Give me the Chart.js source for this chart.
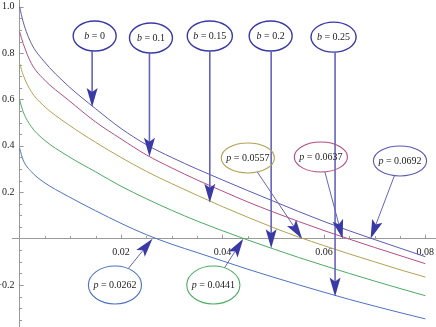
<!DOCTYPE html>
<html>
<head>
<meta charset="utf-8">
<script src="https://cdn.jsdelivr.net/npm/chart.js@4"></script>
<style>
  body { margin: 0; background: #fff; }
  canvas { display: block; }
</style>
</head>
<body>
<canvas id="chart" width="436" height="327"></canvas>
<script>
const pValues = [0, 0.0007, 0.0023, 0.0046, 0.0096, 0.015, 0.02, 0.025, 0.03, 0.035, 0.04, 0.045, 0.05, 0.055, 0.06, 0.065, 0.07, 0.075, 0.08];

// one curve per b
const curveB0   = [1.0, 0.935, 0.842, 0.77, 0.658, 0.56, 0.475, 0.405, 0.35, 0.3, 0.253, 0.207, 0.162, 0.117, 0.074, 0.034, -0.004, -0.041, -0.078];
const curveB010 = [0.892, 0.842, 0.756, 0.691, 0.598, 0.503, 0.43, 0.361, 0.305, 0.253, 0.205, 0.158, 0.115, 0.074, 0.035, -0.002, -0.038, -0.073, -0.108];
const curveB015 = [0.756, 0.706, 0.634, 0.576, 0.492, 0.415, 0.35, 0.29, 0.237, 0.187, 0.138, 0.092, 0.048, 0.007, -0.03, -0.066, -0.1, -0.134, -0.166];
const curveB020 = [0.598, 0.547, 0.483, 0.43, 0.355, 0.288, 0.226, 0.172, 0.122, 0.076, 0.034, -0.006, -0.044, -0.081, -0.116, -0.15, -0.183, -0.215, -0.246];
const curveB025 = [0.39, 0.339, 0.289, 0.246, 0.182, 0.12, 0.066, 0.017, -0.024, -0.06, -0.096, -0.132, -0.166, -0.199, -0.231, -0.262, -0.291, -0.319, -0.346];

// "b = ..." callouts: label centre and arrow tip (data coords)
const bLabels = ['0', '0.1', '0.15', '0.2', '0.25'];
const bLabelX = [0.0148, 0.0259, 0.0375, 0.0495, 0.0619];
const bLabelY = [0.874, 0.865, 0.874, 0.874, 0.869];
const bTipX = [0.0143, 0.0256, 0.0375, 0.0496, 0.0622];
const bTipY = [0.568, 0.353, 0.155, -0.041, -0.25];

// "p = ..." callouts: arrow points at the zero crossing p
const pLabels = ['0.0262', '0.0441', '0.0557', '0.0637', '0.0692'];
const pLabelX = [0.0188, 0.0382, 0.045, 0.0594, 0.075];
const pLabelY = [-0.2, -0.2, 0.348, 0.352, 0.335];

const colors = ['#5a5ab4', '#b34d84', '#b3a152', '#4caa62', '#4d72c0'];
const pColors = [colors[4], colors[3], colors[2], colors[1], colors[0]];
const navy = '#3a3aa6';
const serif = '"Liberation Serif", "Times New Roman", serif';

const series = [curveB0, curveB010, curveB015, curveB020, curveB025];

// no auto padding for the first/last tick labels
const noPad = s => { s.paddingTop = 0; s.paddingBottom = 0; s.paddingLeft = 0; s.paddingRight = 0; };

const axisTicks = {
    id: 'axisTicks',
    beforeDatasetsDraw(chart) {
        const { ctx, scales: { x, y } } = chart;
        const x0 = x.getPixelForValue(0);
        const y0 = y.getPixelForValue(0);
        ctx.save();
        ctx.strokeStyle = '#999';
        ctx.lineWidth = 1;
        ctx.beginPath();
        for (let i = 1; i <= 16; i++) {
            const px = Math.round(x.getPixelForValue(i * 0.005)) + 0.5;
            const len = i % 4 === 0 ? 4 : 2.5;
            ctx.moveTo(px, y0);
            ctx.lineTo(px, y0 - len);
        }
        for (let i = -7; i <= 20; i++) {
            if (i === 0) continue;
            const py = Math.round(y.getPixelForValue(i * 0.05)) + 0.5;
            const len = i % 4 === 0 ? 4 : 2.5;
            ctx.moveTo(x0, py);
            ctx.lineTo(x0 + len, py);
        }
        ctx.stroke();
        ctx.restore();
    }
};

function arrowHead(ctx, fx, fy, tx, ty) {
    const a = Math.atan2(ty - fy, tx - fx);
    const len = 19, hw = 5.5, notch = 4;
    ctx.save();
    ctx.translate(tx, ty);
    ctx.rotate(a);
    ctx.fillStyle = navy;
    ctx.beginPath();
    ctx.moveTo(0, 0);
    ctx.lineTo(-len, -hw);
    ctx.lineTo(-len + notch, 0);
    ctx.lineTo(-len, hw);
    ctx.closePath();
    ctx.fill();
    ctx.restore();
}

function labelText(ctx, letter, value, cx, cy) {
    const fi = 'italic 10px ' + serif;
    const fn = '10px ' + serif;
    ctx.font = fi;
    const w1 = ctx.measureText(letter).width;
    ctx.font = fn;
    const rest = ' = ' + value;
    const w2 = ctx.measureText(rest).width;
    const left = cx - (w1 + w2) / 2;
    ctx.fillStyle = '#222';
    ctx.textBaseline = 'middle';
    ctx.textAlign = 'left';
    ctx.font = fi;
    ctx.fillText(letter, left, cy);
    ctx.font = fn;
    ctx.fillText(rest, left + w1, cy);
    return w1 + w2;
}

const callouts = {
    id: 'callouts',
    afterDatasetsDraw(chart) {
        const { ctx, scales: { x, y } } = chart;
        ctx.save();

        // b labels, vertical arrows down to the curves
        bLabels.forEach((lab, i) => {
            const cx = x.getPixelForValue(bLabelX[i]);
            const cy = y.getPixelForValue(bLabelY[i]);
            const tx = x.getPixelForValue(bTipX[i]);
            const ty = y.getPixelForValue(bTipY[i]);
            const w = labelText(ctx, 'b', lab, cx, cy);
            const rx = Math.max(w / 2 + 6, 21.5), ry = 15;
            ctx.strokeStyle = navy;
            ctx.lineWidth = 1.4;
            ctx.beginPath();
            ctx.ellipse(cx, cy, rx, ry, 0, 0, Math.PI * 2);
            ctx.stroke();
            ctx.strokeStyle = '#6464bc';
            ctx.lineWidth = 1.6;
            ctx.beginPath();
            ctx.moveTo(tx, cy + ry);
            ctx.lineTo(tx, ty - 6);
            ctx.stroke();
            arrowHead(ctx, tx, cy + ry, tx, ty);
        });

        // p labels, arrows to the zero crossings
        pLabels.forEach((lab, i) => {
            const cx = x.getPixelForValue(pLabelX[i]);
            const cy = y.getPixelForValue(pLabelY[i]);
            const tx = x.getPixelForValue(Number(lab));
            const ty = y.getPixelForValue(0);
            const w = labelText(ctx, 'p', lab, cx, cy);
            const rx = w / 2 + 5;
            const ry = pLabelY[i] < 0 ? 19 : 15;
            ctx.strokeStyle = pColors[i];
            ctx.lineWidth = 1.1;
            ctx.beginPath();
            ctx.ellipse(cx, cy, rx, ry, 0, 0, Math.PI * 2);
            ctx.stroke();
            const dx = tx - cx, dy = ty - cy;
            const t = 1 / Math.sqrt((dx / rx) ** 2 + (dy / ry) ** 2);
            const sx = cx + dx * t, sy = cy + dy * t;
            const d = Math.hypot(dx, dy);
            ctx.strokeStyle = '#6464c0';
            ctx.lineWidth = 1;
            ctx.beginPath();
            ctx.moveTo(sx, sy);
            ctx.lineTo(tx - dx / d * 6, ty - dy / d * 6);
            ctx.stroke();
            arrowHead(ctx, sx, sy, tx, ty);
        });

        ctx.restore();
    }
};

new Chart(document.getElementById('chart').getContext('2d'), {
    type: 'line',
    data: {
        datasets: series.map((vals, i) => ({
            label: 'b = ' + bLabels[i],
            data: pValues.map((p, k) => ({ x: p, y: vals[k] })),
            borderColor: colors[i],
            borderWidth: 1,
            pointRadius: 0,
            fill: false,
            cubicInterpolationMode: 'monotone'
        }))
    },
    options: {
        responsive: false,
        animation: false,
        devicePixelRatio: 1,
        layout: { padding: { left: 12, right: 0, top: 0, bottom: 0 } },
        plugins: {
            legend: { display: false },
            tooltip: { enabled: false }
        },
        scales: {
            x: {
                type: 'linear',
                min: -0.0015,
                max: 0.0821,
                position: { y: 0 },
                afterFit: noPad,
                grid: { display: false },
                border: { display: true, color: '#999', width: 1 },
                ticks: {
                    stepSize: 0.02,
                    includeBounds: false,
                    autoSkip: false,
                    maxRotation: 0,
                    padding: 0,
                    color: '#222',
                    font: { family: serif, size: 10 },
                    callback: v => (v > 0.001 ? v.toFixed(2) : '')
                }
            },
            y: {
                type: 'linear',
                min: -0.381,
                max: 1.029,
                position: { x: 0 },
                afterFit: noPad,
                grid: { display: false },
                border: { display: true, color: '#999', width: 1 },
                ticks: {
                    stepSize: 0.2,
                    includeBounds: false,
                    autoSkip: false,
                    color: '#222',
                    font: { family: serif, size: 10 },
                    // trailing en space keeps the label clear of the axis
                    callback: v => (Math.abs(v) < 1e-9 ? '' : (v < 0 ? '\u2212' : '') + Math.abs(v).toFixed(1) + '\u2002')
                }
            }
        }
    },
    plugins: [axisTicks, callouts]
});
</script>
</body>
</html>
